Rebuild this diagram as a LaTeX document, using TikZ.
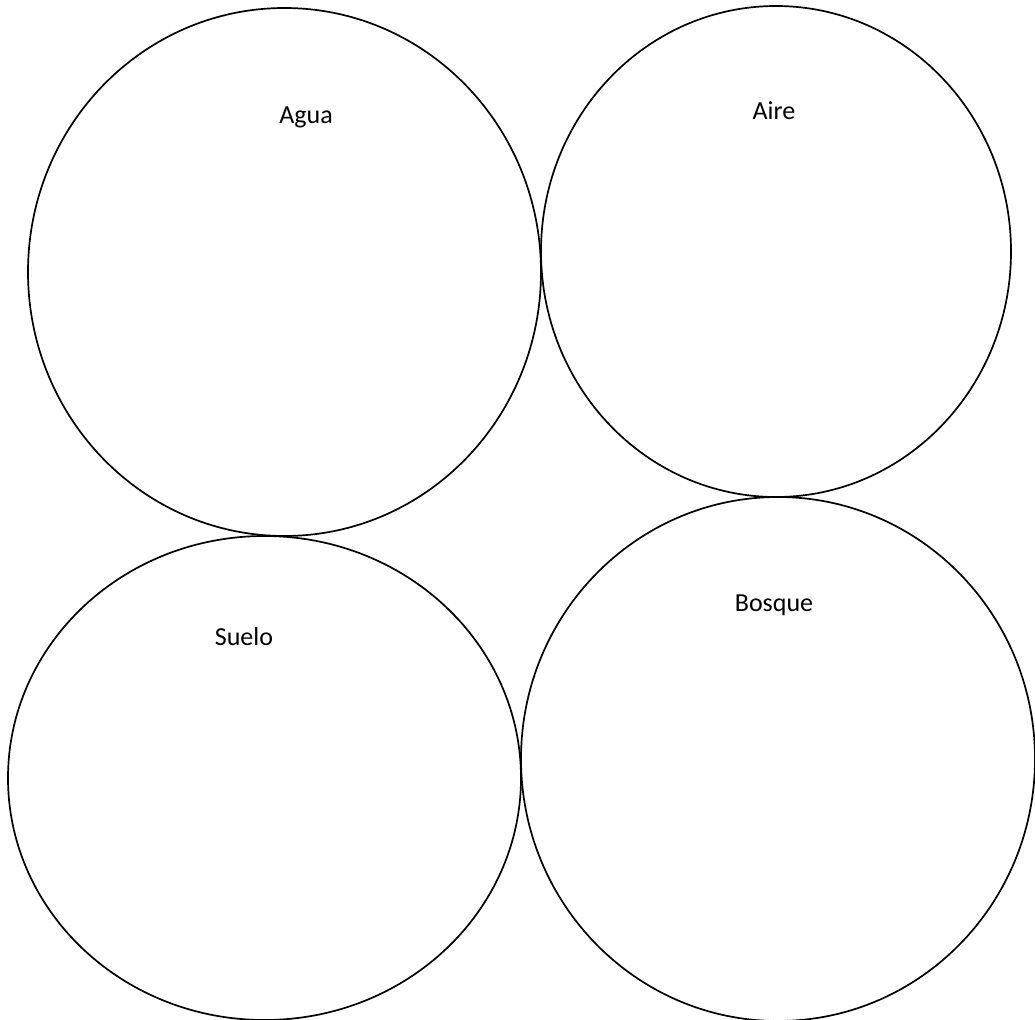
\documentclass[tikz,border=0pt]{standalone}
\usepackage{fontspec}
\setmainfont{Carlito}
\usetikzlibrary{shapes.geometric}
\begin{document}
\begin{tikzpicture}[x=1pt,y=-1pt,
  blob/.style={draw=black,line width=1.7pt},
  lbl/.style={font=\fontsize{26}{30}\selectfont}]
\useasboundingbox (0,0) rectangle (1035,1019);
\clip (0,0) rectangle (1035,1019);
\draw[blob] (284.5,272) ellipse [x radius=256.5, y radius=264];
\draw[blob] (776,251.5) ellipse [x radius=235, y radius=245.5];
\draw[blob] (264.5,778) ellipse [x radius=256.5, y radius=242];
\draw[blob] (778,759) ellipse [x radius=257, y radius=262];
\node[lbl] (agua) at (306,117) {Agua};
\node[lbl] (aire) at (774,111) {Aire};
\node[lbl] (suelo) at (244,637) {Suelo};
\node[lbl] (bosque) at (774,605) {Bosque};
\end{tikzpicture}
\end{document}
